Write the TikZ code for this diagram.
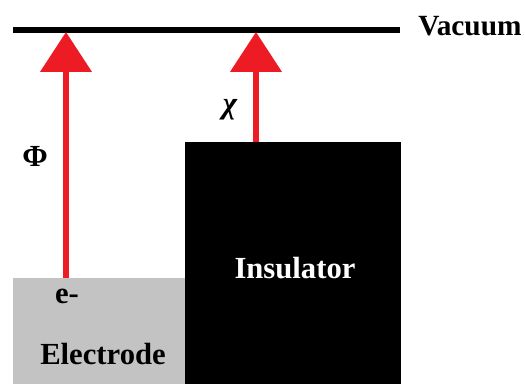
\documentclass[tikz,border=0pt]{standalone}
\usepackage{fontspec}
\setmainfont{Liberation Serif}
\usetikzlibrary{arrows.meta, positioning}
\definecolor{levelred}{HTML}{ED1C24}
\definecolor{metalgray}{HTML}{C3C3C3}

\begin{document}
\begin{tikzpicture}[
  x=0.75pt, y=-0.75pt,
  lbl/.style={font=\bfseries\fontsize{23}{25}\selectfont, inner sep=0pt},
  level/.style={draw, line width=4pt},
  energy/.style={draw=levelred, line width=4.2pt, -{Triangle[width=38pt, length=30pt]}, levelred}
  ]
  \useasboundingbox (0,0) rectangle (525,384);
  % blocks
  \fill[metalgray] (13,278) rectangle (185,384);
  \fill[black] (185,142) rectangle (401,384);
  % vacuum level
  \coordinate (vacL) at (13,30);
  \coordinate (vacR) at (400,30);
  \draw[level] (vacL) -- (vacR);
  \node[lbl, anchor=west, font=\bfseries\fontsize{22}{24}\selectfont] (vac) at (418,26) {Vacuum};
  % work function and electron affinity
  \coordinate (phibot) at (66,278);
  \coordinate (phitop) at (66,32);
  \coordinate (chibot) at (256,142);
  \coordinate (chitop) at (256,32);
  \draw[energy] (phibot) -- (phitop);
  \draw[energy] (chibot) -- (chitop);
  \node[lbl] (phi) at (35,156) {Φ};
  \node[lbl, font=\bfseries\itshape\fontsize{23}{25}\selectfont] (chi) at (230,110) {χ};
  % labels
  \node[lbl] (elec) at (67,296) {e-};
  \node[lbl] (electrode) at (103,354) {Electrode};
  \node[lbl, text=white] (ins) at (295,268) {Insulator};
\end{tikzpicture}
\end{document}
